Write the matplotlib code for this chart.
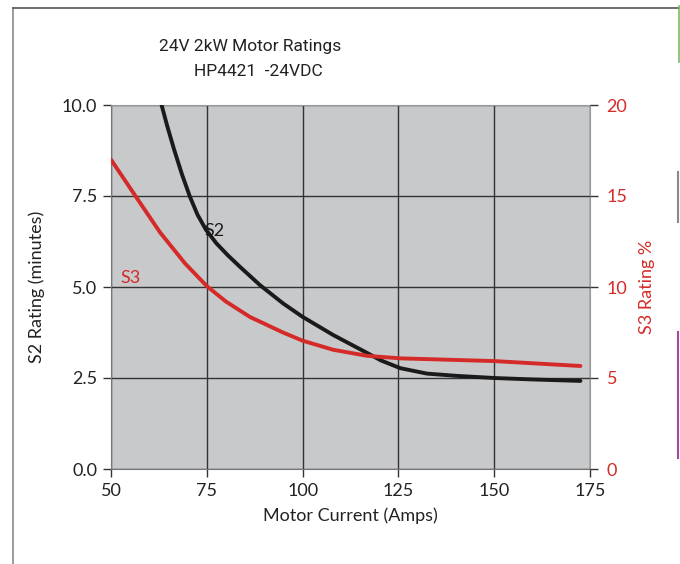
import matplotlib
matplotlib.use("Agg")
import matplotlib.pyplot as plt
from matplotlib.lines import Line2D

plt.rcParams["font.family"] = ["Lato", "DejaVu Sans"]

# S2 rating (minutes) vs motor current
s2_current = [63.2, 64.6, 66.4, 68.5, 70.6, 72.6, 74.8, 77.5, 80.5, 83.7, 88.9, 94.9, 100, 108, 116.8,
              120.5, 125.5, 132.5, 140, 150, 160, 172.5]
s2_minutes = [10.0, 9.45, 8.8, 8.1, 7.48, 6.98, 6.57, 6.2, 5.87, 5.55, 5.05, 4.55, 4.18, 3.68, 3.19,
              2.98, 2.77, 2.62, 2.56, 2.5, 2.46, 2.42]

# S3 rating (%) vs motor current
s3_current = [50, 56.7, 62.8, 69.3, 75, 80, 86.3, 94.9, 100, 108, 116.8, 125.5, 150, 172.5]
s3_percent = [17.0, 14.9, 13.0, 11.3, 10.05, 9.2, 8.35, 7.5, 7.05, 6.55, 6.22, 6.08, 5.93, 5.66]

x_ticks = [50, 75, 100, 125, 150, 175]
y_ticks = [0.0, 2.5, 5.0, 7.5, 10.0]
y2_ticks = [0, 5, 10, 15, 20]

RED = "#d42a28"
GRID = "#333333"

fig = plt.figure(figsize=(6.8, 5.64), dpi=100)
ax = fig.add_axes([111 / 680, 95 / 564, 479 / 680, 364 / 564])
ax.set_facecolor("#c8c9cb")

ax.set_xlim(50, 175)
ax.set_ylim(0, 10)
ax.set_xticks(x_ticks)
ax.set_yticks(y_ticks)
ax.set_yticklabels([f"{v:.1f}" for v in y_ticks])
ax.grid(True, color=GRID, linewidth=1.0)
ax.set_axisbelow(True)
ax.tick_params(axis="both", direction="out", length=6, width=1, color="#333333",
               labelsize=13, labelcolor="#222222", pad=4)

for side in ["top", "right"]:
    ax.spines[side].set_color("#9a9a9a")
for side in ["left", "bottom"]:
    ax.spines[side].set_color("#777777")

ax.plot(s2_current, s2_minutes, color="#1a1a1a", linewidth=2.8,
        solid_capstyle="round", solid_joinstyle="round", zorder=3)
ax.set_xlabel("Motor Current (Amps)", fontsize=13, color="#222222", labelpad=6)
ax.set_ylabel("S2 Rating (minutes)", fontsize=13, color="#222222", labelpad=12)

ax2 = ax.twinx()
ax2.set_ylim(0, 20)
ax2.set_yticks(y2_ticks)
ax2.tick_params(axis="y", direction="out", length=6, width=1, color="#333333",
                labelsize=13, labelcolor=RED, pad=6)
ax2.plot(s3_current, s3_percent, color=RED, linewidth=2.8,
         solid_capstyle="round", solid_joinstyle="round", zorder=3)
ax2.set_ylabel("S3 Rating %", fontsize=13, color=RED, labelpad=8)
for side in ["top", "right", "left", "bottom"]:
    ax2.spines[side].set_visible(False)

ax.text(74.5, 6.4, "S2", fontsize=13, color="#1a1a1a")
ax.text(52.5, 5.1, "S3", fontsize=13, color=RED)

title_font = ["Roboto", "DejaVu Sans"]
fig.text(250 / 680, 1 - 46 / 564, "24V 2kW Motor Ratings", fontsize=12.5, family=title_font,
         ha="center", va="center", color="#222222")
fig.text(258 / 680, 1 - 72 / 564, "HP4421  -24VDC", fontsize=12.5, family=title_font,
         ha="center", va="center", color="#222222")

# page frame around the chart
fig.add_artist(Line2D([13 / 680, 13 / 680], [0, 1 - 8 / 564], color="#8a8a8a", linewidth=1.2))
fig.add_artist(Line2D([13 / 680, 1], [1 - 8 / 564, 1 - 8 / 564], color="#555555", linewidth=1.2))
fig.add_artist(Line2D([679 / 680, 679 / 680], [1 - 62 / 564, 1 - 6 / 564], color="#7dbb63", linewidth=1.2))
fig.add_artist(Line2D([678 / 680, 678 / 680], [1 - 222 / 564, 1 - 172 / 564], color="#8a8a8a", linewidth=1.5))
fig.add_artist(Line2D([678 / 680, 678 / 680], [1 - 458 / 564, 1 - 332 / 564], color="#a24b9a", linewidth=1.5))

fig.savefig("out.png", dpi=100)
